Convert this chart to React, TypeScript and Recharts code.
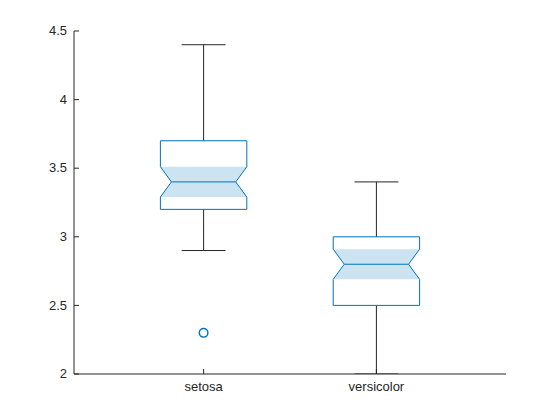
import React from "react";
import {
  ComposedChart,
  Area,
  Line,
  Scatter,
  XAxis,
  YAxis,
} from "recharts";

const categories = ["setosa", "versicolor"];
const q1 = [3.2, 2.5];
const q3 = [3.7, 3.0];
const medians = [3.4, 2.8];
const notchLow = [3.29, 2.69];
const notchHigh = [3.51, 2.91];
const whiskerLow = [2.9, 2.0];
const whiskerHigh = [4.4, 3.4];
const outliers = [{ cat: 1, value: 2.3 }];
const yTicks = [2, 2.5, 3, 3.5, 4, 4.5];

const BLUE = "#0072BD";
const INK = "#262626";
const HALF = 0.25; // half box width in category units
const INSET = 0.064; // notch inset
const CAP = 0.127; // half cap width
const FONT = "'Liberation Sans', Arial, sans-serif";

type Pt = { x: number; y: number | null; range?: [number, number] };

// outline of a notched box, closed polygon
function outline(i: number): Pt[] {
  const c = i + 1;
  return [
    { x: c - HALF, y: q1[i] },
    { x: c + HALF, y: q1[i] },
    { x: c + HALF, y: notchLow[i] },
    { x: c + HALF - INSET, y: medians[i] },
    { x: c + HALF, y: notchHigh[i] },
    { x: c + HALF, y: q3[i] },
    { x: c - HALF, y: q3[i] },
    { x: c - HALF, y: notchHigh[i] },
    { x: c - HALF + INSET, y: medians[i] },
    { x: c - HALF, y: notchLow[i] },
    { x: c - HALF, y: q1[i] },
  ];
}

function medianLine(i: number): Pt[] {
  const c = i + 1;
  return [
    { x: c - HALF + INSET, y: medians[i] },
    { x: c + HALF - INSET, y: medians[i] },
  ];
}

// shaded notch halves as ranged areas
function notchUpper(i: number): Pt[] {
  const c = i + 1;
  return [
    { x: c - HALF, y: null, range: [notchHigh[i], notchHigh[i]] },
    { x: c - HALF + INSET, y: null, range: [medians[i], notchHigh[i]] },
    { x: c + HALF - INSET, y: null, range: [medians[i], notchHigh[i]] },
    { x: c + HALF, y: null, range: [notchHigh[i], notchHigh[i]] },
  ];
}

function notchLower(i: number): Pt[] {
  const c = i + 1;
  return [
    { x: c - HALF, y: null, range: [notchLow[i], notchLow[i]] },
    { x: c - HALF + INSET, y: null, range: [notchLow[i], medians[i]] },
    { x: c + HALF - INSET, y: null, range: [notchLow[i], medians[i]] },
    { x: c + HALF, y: null, range: [notchLow[i], notchLow[i]] },
  ];
}

function whiskers(i: number): Pt[] {
  const c = i + 1;
  return [
    { x: c, y: q3[i] },
    { x: c, y: whiskerHigh[i] },
    { x: c, y: null },
    { x: c - CAP, y: whiskerHigh[i] },
    { x: c + CAP, y: whiskerHigh[i] },
    { x: c, y: null },
    { x: c, y: q1[i] },
    { x: c, y: whiskerLow[i] },
    { x: c, y: null },
    { x: c - CAP, y: whiskerLow[i] },
    { x: c + CAP, y: whiskerLow[i] },
  ];
}

const outlierData = outliers.map((o) => ({ x: o.cat, y: o.value }));

const YTick = (props: any) => {
  const { x, y, payload } = props;
  return (
    <g>
      <text
        x={x}
        y={y}
        dy="0.33em"
        textAnchor="end"
        fill={INK}
        fontSize={13}
        fontFamily={FONT}
      >
        {payload.value}
      </text>
      <line x1={x + 7} x2={x + 12} y1={y} y2={y} stroke={INK} />
    </g>
  );
};

const XTick = (props: any) => {
  const { x, y, payload } = props;
  return (
    <g>
      <text
        x={x}
        y={y}
        dy={12}
        textAnchor="middle"
        fill={INK}
        fontSize={13}
        fontFamily={FONT}
      >
        {categories[payload.value - 1]}
      </text>
      <line x1={x} x2={x} y1={y - 5} y2={y - 10} stroke={INK} />
    </g>
  );
};

const Ring = (props: any) => {
  const { cx, cy } = props;
  return <circle cx={cx} cy={cy} r={4.3} fill="none" stroke={BLUE} strokeWidth={1.4} />;
};

export default function App() {
  const idx = categories.map((_, i) => i);
  return (
    <div style={{ position: "absolute", left: 0, top: 0, width: 560, height: 420, background: "#fff" }}>
      <ComposedChart width={560} height={420} margin={{ top: 31, right: 54, bottom: 0, left: 0 }}>
        <XAxis
          type="number"
          dataKey="x"
          domain={[0.25, 2.75]}
          ticks={[1, 2]}
          allowDataOverflow
          height={46}
          tickSize={0}
          tickMargin={5}
          tick={<XTick />}
          axisLine={{ stroke: INK }}
        />
        <YAxis
          type="number"
          domain={[2, 4.5]}
          ticks={yTicks}
          allowDataOverflow
          width={74}
          tickSize={0}
          tickMargin={7}
          tick={<YTick />}
          axisLine={{ stroke: INK }}
        />
        {idx.map((i) => (
          <Area
            key={`nu${i}`}
            data={notchUpper(i)}
            dataKey="range"
            type="linear"
            stroke="none"
            fill={BLUE}
            fillOpacity={0.2}
            isAnimationActive={false}
          />
        ))}
        {idx.map((i) => (
          <Area
            key={`nl${i}`}
            data={notchLower(i)}
            dataKey="range"
            type="linear"
            stroke="none"
            fill={BLUE}
            fillOpacity={0.2}
            isAnimationActive={false}
          />
        ))}
        {idx.map((i) => (
          <Line
            key={`w${i}`}
            data={whiskers(i)}
            dataKey="y"
            type="linear"
            stroke={INK}
            strokeWidth={1}
            dot={false}
            activeDot={false}
            isAnimationActive={false}
          />
        ))}
        {idx.map((i) => (
          <Line
            key={`b${i}`}
            data={outline(i)}
            dataKey="y"
            type="linear"
            stroke={BLUE}
            strokeWidth={1}
            dot={false}
            activeDot={false}
            isAnimationActive={false}
          />
        ))}
        {idx.map((i) => (
          <Line
            key={`m${i}`}
            data={medianLine(i)}
            dataKey="y"
            type="linear"
            stroke={BLUE}
            strokeWidth={1}
            dot={false}
            activeDot={false}
            isAnimationActive={false}
          />
        ))}
        <Scatter data={outlierData} dataKey="y" shape={<Ring />} isAnimationActive={false} />
      </ComposedChart>
    </div>
  );
}
